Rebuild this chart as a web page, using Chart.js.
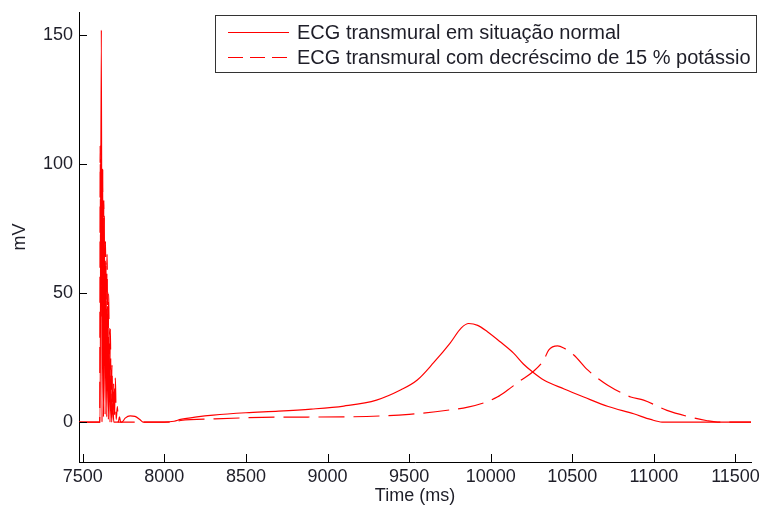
<!DOCTYPE html>
<html>
<head>
<meta charset="utf-8">
<script src="https://cdn.jsdelivr.net/npm/chart.js@4"></script>
<style>
  html, body { margin: 0; padding: 0; background: #fff; }
  #wrap { width: 761px; height: 507px; }
</style>
</head>
<body>
<div id="wrap"><canvas id="ecg" width="761" height="507"></canvas></div>
<script>
// ECG transmural - situação normal
const normalTime = [7477, 7606, 7614, 7618, 7622, 7627, 7632, 7637, 7642, 7647, 7652, 7657, 7662, 7667, 7672, 7677, 7684, 7690, 7740,
  7760, 7790, 7820, 7850, 7870, 8000, 8060, 8100, 8200, 8300, 8500, 8700, 8900, 9100, 9300, 9450, 9550, 9650, 9750, 9820, 9865,
  9920, 9980, 10060, 10140, 10200, 10257, 10325, 10450, 10570, 10720, 10876, 10980, 11050, 11595];
const normalMv = [0, 0, 152, 0, 98, 2, 80, 3, 62, 2, 45, 1, 30, 0, 18, 0, 8, 0, 0,
  1.5, 2.4, 2.2, 1, 0, 0, 0.3, 1, 2, 2.7, 3.6, 4.2, 5, 6.2, 8.5, 12.5, 16.3, 23, 30.5, 36.5, 38.2,
  37.5, 35, 31, 26.7, 22.5, 19.4, 16.3, 12.8, 9.7, 6, 3.2, 1, 0, 0];

// ECG transmural - decréscimo de 15 % potássio
const potassioTime = [7477, 7604, 7607, 7610, 7613, 7617, 7621, 7625, 7629, 7634, 7639, 7644, 7649, 7654, 7659, 7664, 7669, 7674,
  7679, 7684, 7689, 7694, 7700, 7705, 7712, 7718, 7725, 7732, 8050, 8100, 8300, 8700, 9100, 9500, 9750, 9860, 9960, 10040, 10104,
  10180, 10257, 10325, 10355, 10410, 10447, 10509, 10594, 10631, 10717, 10858, 10937, 11080, 11225, 11320, 11390, 11595];
const potassioMv = [0, 0, 107, 45, 102, 40, 98, 35, 86, 25, 70, 20, 65, 12, 50, 8, 36, 5,
  22, 3, 15, 2, 17, 1, 6, 0, 2, 0, 0, 0.6, 1.2, 1.9, 2, 3, 4.7, 5.8, 7.5, 9.7, 12.4,
  16, 19.4, 24, 27.9, 29.5, 28.7, 26, 20.2, 18.2, 14.3, 9.7, 8.5, 4.5, 1.9, 0.6, 0, 0];

const xTicks = [7500, 8000, 8500, 9000, 9500, 10000, 10500, 11000, 11500];
const yTicks = [0, 50, 100, 150];
const legendLabels = ['ECG transmural em situação normal', 'ECG transmural com decréscimo de 15 % potássio'];

const RED = 'rgb(255,0,0)';
const INK = '#1e1e28';
const FONT = "'Liberation Sans', Arial, sans-serif";

const toPoints = (xs, ys) => xs.map((x, i) => ({ x: x, y: ys[i] }));

// marcas de escala para dentro + legenda com moldura
const decor = {
  id: 'decor',
  afterDraw(chart) {
    const { ctx, chartArea, scales } = chart;
    ctx.save();
    ctx.strokeStyle = '#000';
    ctx.lineWidth = 1;
    ctx.setLineDash([]);
    ctx.beginPath();
    xTicks.forEach(v => {
      const px = Math.round(scales.x.getPixelForValue(v)) + 0.5;
      ctx.moveTo(px, chartArea.bottom);
      ctx.lineTo(px, chartArea.bottom - 8);
    });
    yTicks.forEach(v => {
      const py = Math.round(scales.y.getPixelForValue(v)) + 0.5;
      ctx.moveTo(chartArea.left, py);
      ctx.lineTo(chartArea.left + 8, py);
    });
    ctx.stroke();

    const bx = 215.5, by = 15.5, bw = 541, bh = 57;
    ctx.fillStyle = '#fff';
    ctx.fillRect(bx, by, bw, bh);
    ctx.strokeStyle = '#333';
    ctx.strokeRect(bx, by, bw, bh);

    const rows = [32, 57];
    const dashes = [[], [15, 7]];
    ctx.font = '20px ' + FONT;
    ctx.textBaseline = 'middle';
    ctx.textAlign = 'left';
    rows.forEach((y, i) => {
      ctx.strokeStyle = RED;
      ctx.lineWidth = 1.2;
      ctx.setLineDash(dashes[i]);
      ctx.beginPath();
      ctx.moveTo(228, y + 0.5);
      ctx.lineTo(289, y + 0.5);
      ctx.stroke();
      ctx.setLineDash([]);
      ctx.fillStyle = INK;
      ctx.fillText(legendLabels[i], 297, y + 1);
    });
    ctx.restore();
  }
};

new Chart(document.getElementById('ecg'), {
  type: 'line',
  data: {
    datasets: [
      {
        label: legendLabels[0],
        data: toPoints(normalTime, normalMv),
        borderColor: RED,
        borderWidth: 1.2,
        pointRadius: 0,
        cubicInterpolationMode: 'monotone'
      },
      {
        label: legendLabels[1],
        data: toPoints(potassioTime, potassioMv),
        borderColor: RED,
        borderWidth: 1.2,
        borderDash: [26, 9],
        pointRadius: 0,
        cubicInterpolationMode: 'monotone'
      }
    ]
  },
  options: {
    responsive: false,
    animation: false,
    layout: { padding: { top: 12, right: 10, left: 0, bottom: 0 } },
    plugins: {
      legend: { display: false },
      tooltip: { enabled: false }
    },
    scales: {
      x: {
        type: 'linear',
        min: 7477,
        max: 11595,
        afterBuildTicks: s => { s.ticks = xTicks.map(v => ({ value: v })); },
        afterFit: s => { s.height = 45; s.paddingLeft = 0; s.paddingRight = 0; },
        grid: { display: false, drawTicks: false, tickLength: 0 },
        border: { display: true, color: '#000', width: 1 },
        ticks: {
          padding: 4,
          maxRotation: 0,
          autoSkip: false,
          color: INK,
          font: { family: FONT, size: 18 },
          callback: v => String(v)
        },
        title: {
          display: true,
          text: 'Time (ms)',
          color: INK,
          font: { family: FONT, size: 18 },
          padding: { top: 0, bottom: 0 }
        }
      },
      y: {
        min: -15.5,
        max: 159,
        afterBuildTicks: s => { s.ticks = yTicks.map(v => ({ value: v })); },
        afterFit: s => { s.width = 79; s.paddingTop = 0; s.paddingBottom = 0; },
        grid: { display: false, drawTicks: false, tickLength: 0 },
        border: { display: true, color: '#000', width: 1 },
        ticks: {
          padding: 6,
          color: INK,
          font: { family: FONT, size: 18 },
          callback: v => String(v)
        },
        title: {
          display: true,
          text: 'mV',
          color: INK,
          font: { family: FONT, size: 18 },
          padding: { top: 9, bottom: 0 }
        }
      }
    }
  },
  plugins: [decor]
});
</script>
</body>
</html>
